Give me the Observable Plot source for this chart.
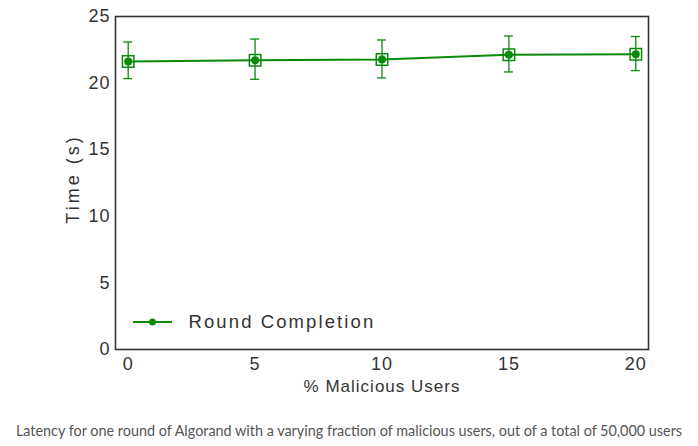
<!DOCTYPE html>
<html><head><meta charset="utf-8">
<script src="https://cdn.jsdelivr.net/npm/d3@7"></script>
<script src="https://cdn.jsdelivr.net/npm/@observablehq/plot@0.6"></script>
<style>
body{margin:0;background:#fff;}
#cap{font-family:Lato,"Open Sans",sans-serif;font-size:14.4px;color:#555;text-align:center;width:698px;margin-top:14px;}
svg text{font-family:"Liberation Sans",Arial,sans-serif;}
.sp text{letter-spacing:1px;}
.leg text{letter-spacing:2.1px;}
.yl text{letter-spacing:3px;}
</style>
</head><body>
<div id="chart"></div>
<div id="cap"></div>
<script>
const malicious = [0, 5, 10, 15, 20];
const timeMean = [21.62, 21.72, 21.77, 22.12, 22.17];
const timeLow = [20.3, 20.25, 20.35, 20.8, 20.9];
const timeHigh = [23.05, 23.27, 23.2, 23.5, 23.46];
const seriesName = "Round Completion";
const xTicks = [0, 5, 10, 15, 20];
const yTicks = [0, 5, 10, 15, 20, 25];
const caption = "Latency for one round of Algorand with a varying fraction of malicious users, out of a total of 50,000 users";

const data = malicious.map((m, i) => ({x: m, y: timeMean[i], lo: timeLow[i], hi: timeHigh[i]}));
const green = "#0a8a0a";

const chart = Plot.plot({
  width: 698, height: 408,
  marginLeft: 115, marginRight: 50, marginTop: 16, marginBottom: 59,
  style: {fontSize: "16px", color: "#333", background: "#fff"},
  x: {domain: [-0.5, 20.5], label: null},
  y: {domain: [0, 25], label: null},
  marks: [
    Plot.axisX({ticks: xTicks, tickSize: 0, tickPadding: 8, fontSize: 18, className: "sp"}),
    Plot.axisY({ticks: yTicks, tickSize: 0, tickPadding: 5, fontSize: 18, className: "sp"}),
    Plot.frame({stroke: "#333", strokeWidth: 1.6}),
    Plot.ruleX(data, {x: "x", y1: "lo", y2: "hi", stroke: green, strokeWidth: 1.3}),
    Plot.line(data, {x: "x", y: "y", stroke: green, strokeWidth: 2}),
    Plot.dot(data, {x: "x", y: "y", symbol: "square", r: 6.5, stroke: green, strokeWidth: 1.5, fill: "none"}),
    Plot.dot(data, {x: "x", y: "y", r: 4, fill: green, stroke: "none"}),
    Plot.text([seriesName], {frameAnchor: "bottom-left", dx: 73, dy: -27, text: d => d, fontSize: 18.5, fill: "#333", textAnchor: "start", lineAnchor: "middle", className: "leg"}),
    Plot.text(["Time (s)"], {frameAnchor: "left", dx: -42, dy: -4, rotate: -90, text: d => d, fontSize: 18, fill: "#333", textAnchor: "middle", lineAnchor: "middle", className: "yl"}),
    Plot.text(["% Malicious Users"], {frameAnchor: "bottom", dy: 37, text: d => d, fontSize: 17, fill: "#333", textAnchor: "middle", lineAnchor: "middle", className: "sp"})
  ]
});
document.getElementById("chart").appendChild(chart);

// error bar caps and legend glyph drawn via scales
const svg = d3.select(chart);
const xs = chart.scale("x"), ys = chart.scale("y");
const g = svg.append("g");
data.forEach(d => {
  [d.lo, d.hi].forEach(v => {
    g.append("line").attr("x1", xs.apply(d.x) - 4.5).attr("x2", xs.apply(d.x) + 4.5)
      .attr("y1", ys.apply(v)).attr("y2", ys.apply(v)).attr("stroke", green).attr("stroke-width", 1.3);
  });
});
const lx = 115 + 18, ly = 349 - 27;
g.append("line").attr("x1", lx).attr("x2", lx + 39).attr("y1", ly).attr("y2", ly).attr("stroke", green).attr("stroke-width", 2);
g.append("circle").attr("cx", lx + 19.5).attr("cy", ly).attr("r", 3.5).attr("fill", green);
document.getElementById("cap").textContent = caption;
</script>
</body></html>
